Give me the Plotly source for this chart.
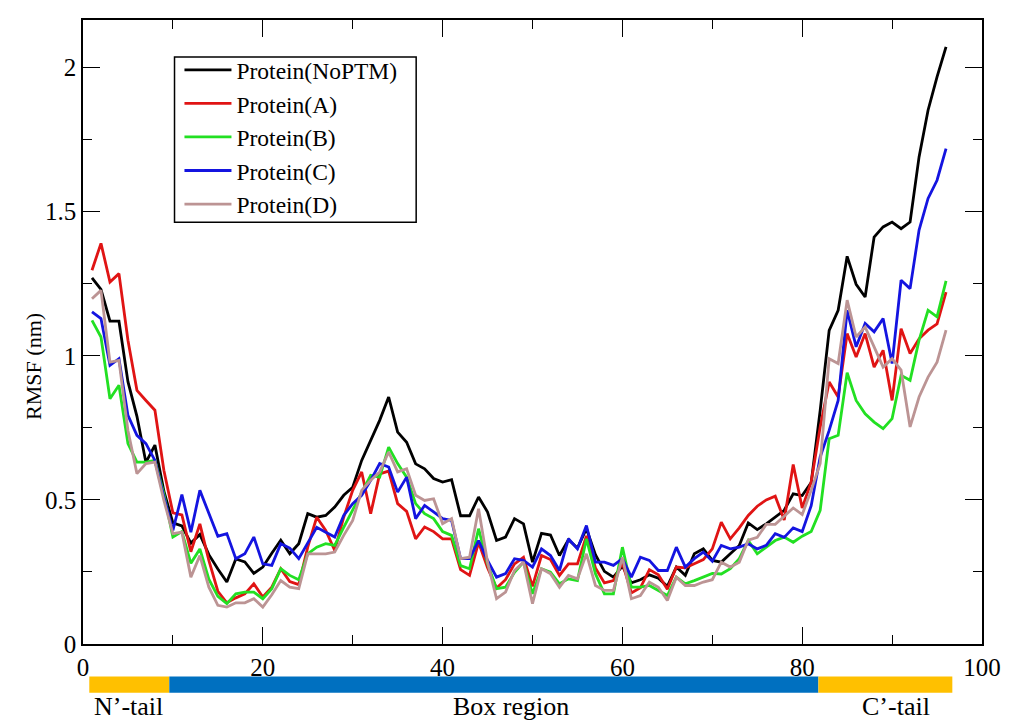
import plotly.graph_objects as go

residues = list(range(1, 97))

noptm = [1.27, 1.23, 1.12, 1.12, 0.91, 0.79, 0.63, 0.69, 0.53, 0.42,
         0.41, 0.35, 0.38, 0.31, 0.26, 0.215, 0.295, 0.285, 0.245, 0.267,
         0.315, 0.36, 0.313, 0.348, 0.452, 0.44, 0.446, 0.475, 0.516, 0.544,
         0.637, 0.707, 0.776, 0.857, 0.735, 0.70, 0.625, 0.608, 0.574, 0.562,
         0.57, 0.445, 0.445, 0.51, 0.458, 0.359, 0.371, 0.435, 0.417, 0.284,
         0.384, 0.378, 0.307, 0.362, 0.333, 0.40, 0.31, 0.252, 0.232, 0.27,
         0.212, 0.223, 0.24, 0.228, 0.20, 0.267, 0.238, 0.313, 0.33, 0.29,
         0.284, 0.313, 0.342, 0.42, 0.397, 0.417, 0.44, 0.464, 0.521, 0.515,
         0.56, 0.81, 1.088, 1.158, 1.345, 1.248, 1.204, 1.412, 1.447, 1.464,
         1.441, 1.464, 1.69, 1.852, 1.968, 2.072]

prot_a = [1.297, 1.39, 1.256, 1.285, 1.054, 0.88, 0.845, 0.811, 0.602, 0.455,
          0.448, 0.32, 0.417, 0.29, 0.183, 0.143, 0.16, 0.174, 0.209, 0.163,
          0.197, 0.261, 0.217, 0.206, 0.336, 0.44, 0.394, 0.325, 0.44, 0.533,
          0.597, 0.452, 0.59, 0.60, 0.487, 0.46, 0.365, 0.406, 0.39, 0.365,
          0.365, 0.258, 0.238, 0.353, 0.265, 0.194, 0.223, 0.278, 0.301, 0.20,
          0.307, 0.293, 0.238, 0.278, 0.278, 0.375, 0.264, 0.212, 0.22, 0.281,
          0.177, 0.195, 0.258, 0.24, 0.19, 0.267, 0.264, 0.278, 0.293, 0.33,
          0.423, 0.365, 0.403, 0.446, 0.478, 0.50, 0.513, 0.43, 0.623, 0.472,
          0.562, 0.753, 0.909, 0.857, 1.077, 0.996, 1.077, 0.961, 1.019, 0.845,
          1.094, 1.008, 1.059, 1.089, 1.111, 1.221]

prot_b = [1.123, 1.065, 0.851, 0.898, 0.695, 0.631, 0.631, 0.637, 0.521, 0.371,
          0.39, 0.28, 0.33, 0.225, 0.165, 0.14, 0.174, 0.18, 0.18, 0.157,
          0.192, 0.261, 0.238, 0.223, 0.313, 0.336, 0.348, 0.342, 0.405, 0.464,
          0.527, 0.585, 0.579, 0.683, 0.626, 0.579, 0.487, 0.452, 0.435, 0.39,
          0.377, 0.272, 0.261, 0.40, 0.278, 0.192, 0.197, 0.249, 0.284, 0.174,
          0.261, 0.249, 0.209, 0.226, 0.22, 0.365, 0.244, 0.174, 0.174, 0.336,
          0.197, 0.197, 0.203, 0.186, 0.168, 0.232, 0.209, 0.22, 0.232, 0.245,
          0.243, 0.261, 0.296, 0.359, 0.313, 0.336, 0.359, 0.371, 0.353, 0.374,
          0.39, 0.464, 0.712, 0.724, 0.941, 0.845, 0.799, 0.77, 0.747, 0.782,
          0.932, 0.915, 1.054, 1.158, 1.135, 1.26]

prot_c = [1.152, 1.129, 0.967, 0.99, 0.793, 0.724, 0.695, 0.637, 0.51, 0.394,
          0.518, 0.388, 0.533, 0.452, 0.374, 0.383, 0.296, 0.313, 0.371, 0.278,
          0.273, 0.348, 0.333, 0.296, 0.348, 0.405, 0.388, 0.371, 0.446, 0.487,
          0.516, 0.568, 0.626, 0.614, 0.527, 0.579, 0.435, 0.481, 0.458, 0.435,
          0.429, 0.296, 0.296, 0.359, 0.29, 0.232, 0.244, 0.296, 0.29, 0.267,
          0.33, 0.307, 0.255, 0.365, 0.33, 0.411, 0.284, 0.284, 0.273, 0.296,
          0.232, 0.301, 0.29, 0.255, 0.255, 0.336, 0.267, 0.296, 0.319, 0.287,
          0.342, 0.33, 0.336, 0.348, 0.33, 0.342, 0.383, 0.37, 0.403, 0.39,
          0.48, 0.649, 0.741, 0.845, 1.158, 1.031, 1.112, 1.083, 1.129, 0.973,
          1.262, 1.233, 1.436, 1.546, 1.609, 1.719]

prot_d = [1.198, 1.227, 0.978, 0.984, 0.741, 0.591, 0.626, 0.631, 0.498, 0.383,
          0.388, 0.232, 0.307, 0.197, 0.134, 0.128, 0.143, 0.143, 0.157, 0.128,
          0.171, 0.22, 0.197, 0.192, 0.313, 0.313, 0.313, 0.319, 0.377, 0.429,
          0.533, 0.568, 0.597, 0.666, 0.597, 0.608, 0.516, 0.498, 0.504, 0.417,
          0.435, 0.296, 0.301, 0.469, 0.284, 0.157, 0.18, 0.255, 0.284, 0.14,
          0.261, 0.244, 0.197, 0.238, 0.226, 0.313, 0.203, 0.186, 0.186, 0.301,
          0.157, 0.168, 0.215, 0.197, 0.151, 0.232, 0.203, 0.203, 0.215, 0.223,
          0.284, 0.267, 0.284, 0.36, 0.37, 0.415, 0.415, 0.443, 0.472, 0.449,
          0.533, 0.626, 0.99, 0.973, 1.193, 1.065, 1.10, 1.031, 0.961, 0.99,
          0.95, 0.753, 0.857, 0.926, 0.978, 1.089]

series_names = ["Protein(NoPTM)", "Protein(A)", "Protein(B)", "Protein(C)", "Protein(D)"]
series_values = [noptm, prot_a, prot_b, prot_c, prot_d]
series_colors = ["#000000", "#e01414", "#22e022", "#1414e0", "#bc9494"]

regions = ["N\u2019-tail", "Box region", "C\u2019-tail"]
region_start = [0.7, 9.6, 81.8]
region_end = [9.6, 81.8, 96.7]
region_colors = ["#ffc000", "#0070c0", "#ffc000"]
region_label_x = [5.1, 47.6, 90.4]

FONT = "Liberation Serif, Times New Roman, serif"

fig = go.Figure()
for name, vals, col in zip(series_names, series_values, series_colors):
    fig.add_trace(go.Scatter(x=residues, y=vals, mode="lines", name=name,
                             line=dict(color=col, width=2.8)))

shapes = []
# legend frame
shapes.append(dict(type="rect", xref="paper", yref="paper", x0=0.1018, x1=0.3706,
                   y0=0.676, y1=0.9406, fillcolor="white",
                   line=dict(color="black", width=1.5), layer="below"))
for s, e, c in zip(region_start, region_end, region_colors):
    shapes.append(dict(type="rect", xref="x", yref="paper", x0=s, x1=e,
                       y0=-0.078, y1=-0.052, fillcolor=c, line=dict(width=0),
                       layer="above"))
annotations = []
for lab, lx in zip(regions, region_label_x):
    annotations.append(dict(text=lab, x=lx, xref="x", y=-0.1, yref="paper",
                            showarrow=False, xanchor="center", yanchor="middle",
                            font=dict(family=FONT, size=26, color="black")))
annotations.append(dict(text="RMSF (nm)", x=-0.055, xref="paper", y=0.445, yref="paper",
                        textangle=-90, showarrow=False, xanchor="center", yanchor="middle",
                        font=dict(family=FONT, size=22, color="black")))

axis_common = dict(showline=True, linecolor="black", linewidth=1.5, mirror="ticks",
                   ticks="inside", ticklen=17, tickwidth=1.3, tickcolor="black",
                   showgrid=False, zeroline=False,
                   tickfont=dict(family=FONT, size=25, color="black"))

fig.update_layout(
    width=1013, height=721,
    margin=dict(l=83, r=26, t=20, b=77),
    paper_bgcolor="white", plot_bgcolor="white",
    shapes=shapes, annotations=annotations,
    xaxis=dict(range=[0, 100], dtick=20, tick0=0,
               minor=dict(dtick=10, ticks="inside", ticklen=9, tickcolor="black", tickwidth=1.3),
               **axis_common),
    yaxis=dict(range=[0, 2.165], dtick=0.5, tick0=0,
               minor=dict(dtick=0.25, ticks="inside", ticklen=9, tickcolor="black", tickwidth=1.3),
               **axis_common),
    legend=dict(x=0.1073, y=0.955, xanchor="left", yanchor="top",
                bgcolor="rgba(0,0,0,0)", borderwidth=0, itemwidth=47,
                font=dict(family=FONT, size=23.5, color="black"),
                tracegroupgap=0),
    showlegend=True,
)

fig.write_html("out.html")
